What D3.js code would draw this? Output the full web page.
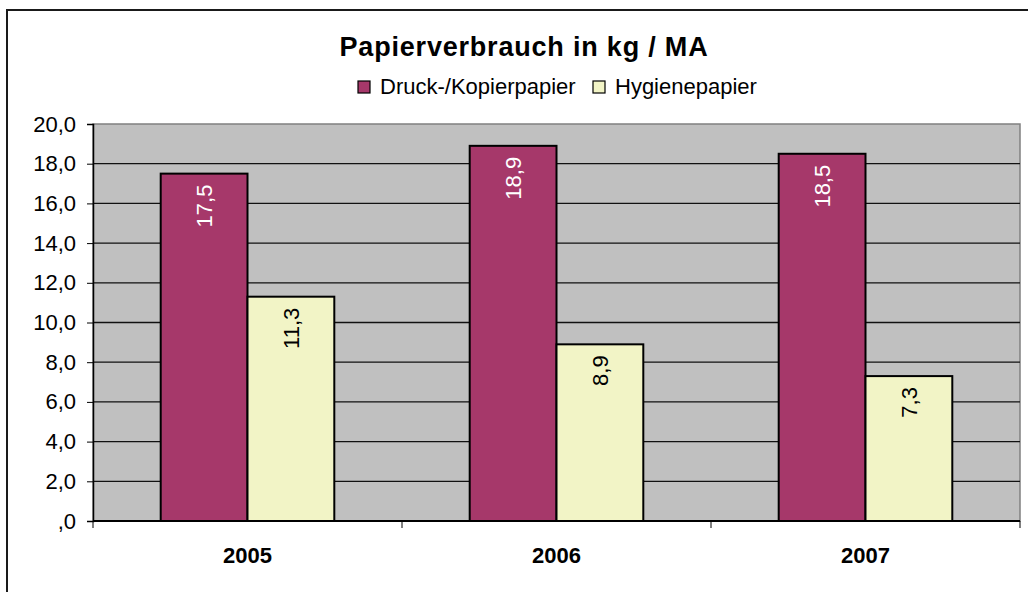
<!DOCTYPE html>
<html>
<head>
<meta charset="utf-8">
<script src="https://cdn.jsdelivr.net/npm/d3@7"></script>
<style>
  body { margin: 0; background: #fff; }
  svg text { font-family: "Liberation Sans", Arial, sans-serif; }
</style>
</head>
<body>
<svg id="chart" width="1028" height="592"></svg>
<script>
const years = ["2005", "2006", "2007"];
const seriesNames = ["Druck-/Kopierpapier", "Hygienepapier"];
const druckValues = [17.5, 18.9, 18.5];
const hygieneValues = [11.3, 8.9, 7.3];
const yTicks = [0, 2, 4, 6, 8, 10, 12, 14, 16, 18, 20];
const yTickLabels = [",0", "2,0", "4,0", "6,0", "8,0", "10,0", "12,0", "14,0", "16,0", "18,0", "20,0"];

const colors = ["#a6386a", "#f2f4c6"];
const labelColors = ["#fff", "#000"];

const svg = d3.select("#chart");
const plot = {left: 93, right: 1020, top: 124, bottom: 521};

// outer chart frame (runs off the right/bottom edge like the source)
svg.append("rect")
  .attr("x", 7).attr("y", 10)
  .attr("width", 1040).attr("height", 600)
  .attr("fill", "#fff")
  .attr("stroke", "#1a1a1a").attr("stroke-width", 2);

svg.append("text")
  .attr("x", 524).attr("y", 56)
  .attr("text-anchor", "middle")
  .attr("font-size", 27).attr("font-weight", "bold")
  .attr("letter-spacing", 0.8)
  .text("Papierverbrauch in kg / MA");

const x = d3.scaleBand().domain(years).range([plot.left, plot.right]);
const x1 = d3.scaleBand().domain([0, 1]).range([0, x.bandwidth()]).paddingOuter(0.78).paddingInner(0);
const y = d3.scaleLinear().domain([0, 20]).range([plot.bottom, plot.top]);

svg.append("rect")
  .attr("x", plot.left).attr("y", plot.top)
  .attr("width", plot.right - plot.left).attr("height", plot.bottom - plot.top)
  .attr("fill", "#c0c0c0")
  .attr("stroke", "#808080").attr("stroke-width", 1.5);

svg.append("g")
  .selectAll("line")
  .data(yTicks.filter(d => d > 0 && d < 20))
  .enter().append("line")
    .attr("x1", plot.left).attr("x2", plot.right)
    .attr("y1", d => y(d)).attr("y2", d => y(d))
    .attr("stroke", "#111").attr("stroke-width", 1.3);

// bars
const data = years.map((yr, i) => ({year: yr, values: [druckValues[i], hygieneValues[i]]}));
const groups = svg.append("g").selectAll("g")
  .data(data)
  .enter().append("g")
    .attr("transform", d => `translate(${x(d.year)},0)`);

groups.selectAll("rect")
  .data(d => d.values.map((v, s) => ({v, s})))
  .enter().append("rect")
    .attr("x", d => x1(d.s))
    .attr("y", d => y(d.v))
    .attr("width", x1.bandwidth())
    .attr("height", d => y(0) - y(d.v))
    .attr("fill", d => colors[d.s])
    .attr("stroke", "#000").attr("stroke-width", 2);

groups.selectAll("text")
  .data(d => d.values.map((v, s) => ({v, s})))
  .enter().append("text")
    .attr("transform", d => `translate(${x1(d.s) + x1.bandwidth() / 2},${y(d.v) + 11}) rotate(-90)`)
    .attr("text-anchor", "end")
    .attr("dy", "0.35em")
    .attr("font-size", 22)
    .attr("fill", d => labelColors[d.s])
    .text(d => d3.format(".1f")(d.v).replace(".", ","));

// y axis
const yAxis = svg.append("g")
  .attr("transform", `translate(${plot.left},0)`)
  .call(d3.axisLeft(y).tickValues(yTicks).tickSize(6).tickPadding(11)
    .tickFormat((d, i) => yTickLabels[i]));
yAxis.select(".domain").attr("stroke", "#000").attr("stroke-width", 1.5);
yAxis.selectAll(".tick line").attr("stroke", "#000");
yAxis.selectAll("text").attr("font-size", 22).attr("fill", "#000")
  .attr("font-family", "'Liberation Sans', Arial, sans-serif");

// x axis
const xAxis = svg.append("g")
  .attr("transform", `translate(0,${plot.bottom})`);
xAxis.append("line")
  .attr("x1", plot.left).attr("x2", plot.right)
  .attr("stroke", "#000").attr("stroke-width", 2);
xAxis.selectAll("line.tk")
  .data(years.map(d => x(d)).concat([plot.right]))
  .enter().append("line")
    .attr("class", "tk")
    .attr("x1", d => d).attr("x2", d => d)
    .attr("y1", 0).attr("y2", 7)
    .attr("stroke", "#000");
xAxis.selectAll("text")
  .data(years)
  .enter().append("text")
    .attr("x", d => x(d) + x.bandwidth() / 2)
    .attr("y", 42)
    .attr("text-anchor", "middle")
    .attr("font-size", 22).attr("font-weight", "bold")
    .text(d => d);

// legend
const legendItems = [{x: 358, tx: 380}, {x: 593, tx: 615}];
const legend = svg.append("g").selectAll("g")
  .data(seriesNames)
  .enter().append("g");
legend.append("rect")
  .attr("x", (d, i) => legendItems[i].x).attr("y", 81)
  .attr("width", 12).attr("height", 12)
  .attr("fill", (d, i) => colors[i])
  .attr("stroke", "#000").attr("stroke-width", 1.2);
legend.append("text")
  .attr("x", (d, i) => legendItems[i].tx).attr("y", 94)
  .attr("font-size", 22)
  .text(d => d);
</script>
</body>
</html>
